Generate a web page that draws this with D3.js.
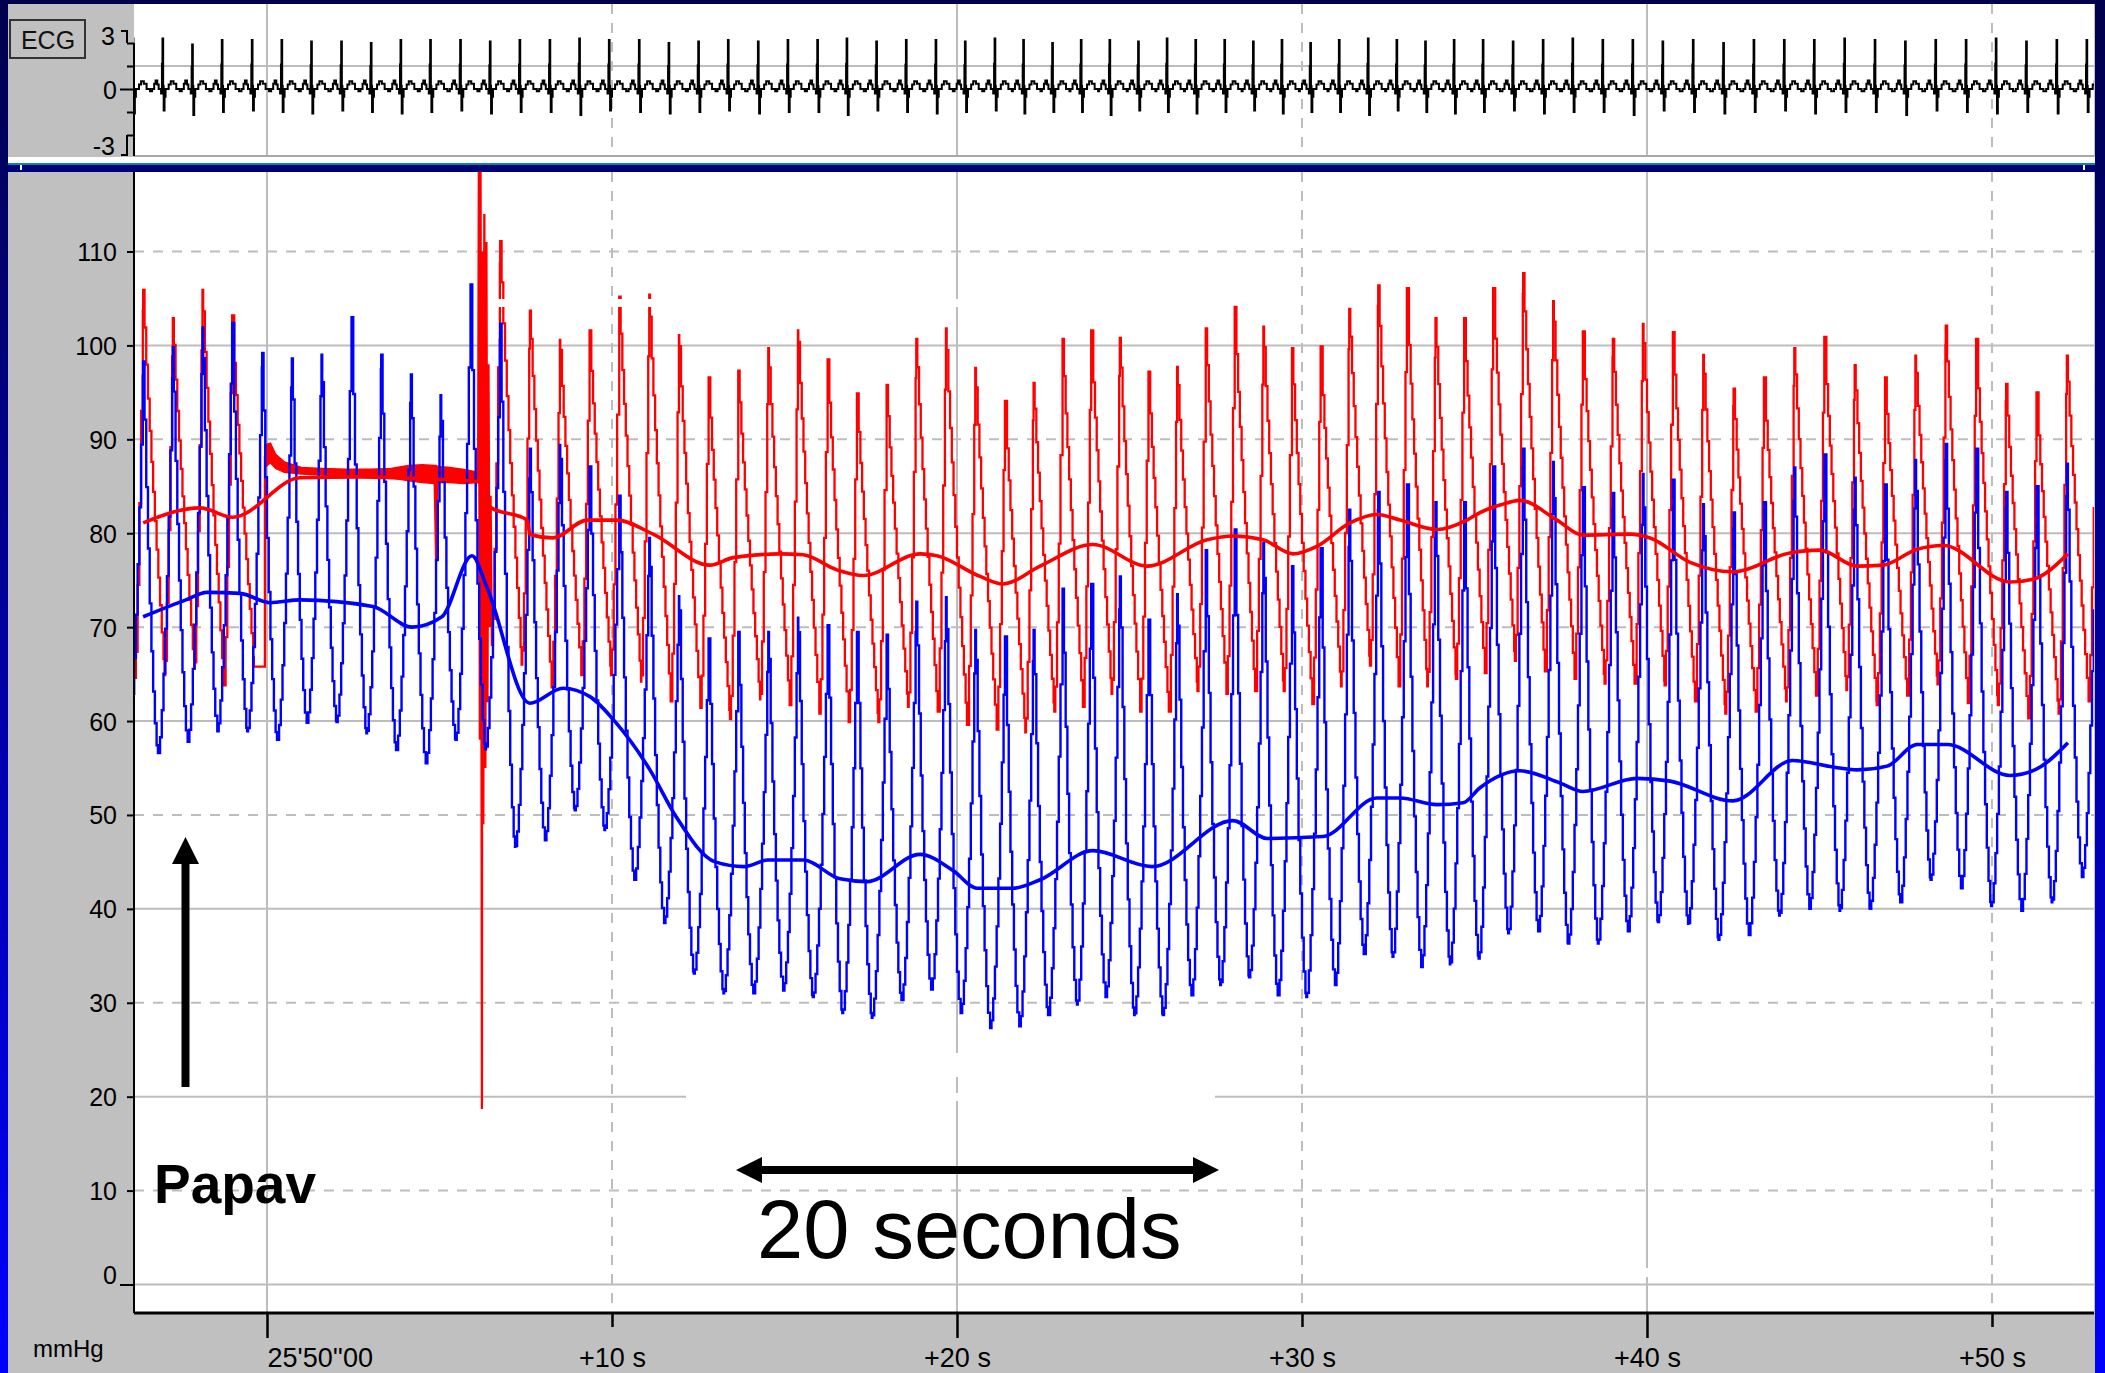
<!DOCTYPE html>
<html>
<head>
<meta charset="utf-8">
<script src="https://cdn.jsdelivr.net/npm/d3@7/dist/d3.min.js"></script>
<style>
  html, body { margin: 0; padding: 0; overflow: hidden; background: #000060; }
  svg { display: block; }
</style>
</head>
<body>
<script>
// beat times (s after 25'50''00), first entry is the beat cut off at the left edge
const beatT = [-4.45, -3.59, -2.73, -1.87, -1.01, -0.14, 0.72, 1.58, 2.45, 3.31,
  4.17, 5.03, 5.90, 6.76, 7.62, 8.49, 9.35, 10.21, 11.08, 11.94,
  12.80, 13.66, 14.53, 15.39, 16.25, 17.10, 17.96, 18.82, 19.68, 20.53,
  21.39, 22.22, 23.06, 23.89, 24.72, 25.55, 26.38, 27.21, 28.05, 28.88,
  29.71, 30.54, 31.37, 32.21, 33.04, 33.87, 34.70, 35.54, 36.41, 37.28,
  38.14, 39.01, 39.88, 40.75, 41.63, 42.51, 43.39, 44.27, 45.14, 46.02,
  46.90, 47.78, 48.66, 49.54, 50.41, 51.29, 52.17, 53.04];

// blue pressure: peak of each beat, trough after each beat (mmHg)
const bluePeak = [99, 98.3, 99.8, 101.9, 102.4, 99.2, 98.6, 99.0, 103.0, 99.0,
  96.9, 94.7, 106.5, 102.3, 89.0, 89.4, 87.1, 84.0, 79.5, 73.3,
  68.8, 69.5, 69.5, 71.0, 70.2, 69.5, 69.2, 72.7, 73.2, 69.7,
  69.0, 69.7, 74.1, 74.6, 75.4, 70.8, 73.5, 78.2, 80.4, 79.0,
  76.5, 78.4, 82.5, 84.4, 85.2, 83.3, 83.3, 87.1, 89.0, 87.6,
  84.9, 84.3, 86.3, 85.7, 83.1, 82.2, 83.3, 87.0, 88.4, 85.9,
  85.2, 87.8, 89.5, 89.0, 84.4, 85.0, 87.4, 85];
const blueTrough = [58, 56.6, 57.8, 58.9, 58.9, 58.0, 59.8, 59.9, 58.7, 56.9,
  55.5, 58.0, 57, 46.6, 47.3, 50.5, 48.4, 43.1, 38.5, 33.1,
  31.0, 31.0, 31.3, 30.6, 28.9, 28.4, 30.3, 31.4, 28.9, 27.3,
  27.5, 28.7, 29.8, 30.6, 28.7, 28.7, 30.8, 31.9, 32.7, 30.8,
  30.6, 31.9, 35.2, 34.9, 33.8, 34.1, 34.7, 37.4, 37.6, 36.3,
  36.3, 37.6, 38.6, 38.4, 36.7, 37.2, 39.3, 40.0, 39.8, 40.0,
  40.7, 43.1, 42.2, 40.3, 39.8, 40.7, 43.4, 42];

// red pressure: peak of each beat, trough just before each upstroke (null = no pulse, line flushed)
const redPeak = [104, 105.9, 102.9, 105.9, 103.2, null, null, null, null, null,
  null, null, null, 111.1, 103.7, 100.6, 101.6, 105.2, 105.4, 101.1,
  96.6, 97.3, 99.7, 101.6, 98.5, 94.9, 95.8, 100.7, 101.8, 97.6,
  94.1, 96.0, 100.7, 101.6, 100.8, 97.2, 97.7, 101.8, 104.1, 102.0,
  99.7, 99.9, 103.9, 106.4, 106.1, 102.9, 102.9, 106.1, 107.7, 104.7,
  101.5, 100.7, 102.3, 101.4, 99.0, 95.4, 96.6, 99.7, 100.9, 97.9,
  96.6, 98.9, 102.1, 100.7, 95.9, 95.0, 98.9, 100];
const redTrough = [null, 64.6, 64.9, 65.6, 63.8, 65.8, null, null, null, null,
  null, null, null, 68, 66.0, 63.6, 64.9, 64.9, 64.2, 62.1,
  61.4, 60.2, 62.3, 61.7, 60.8, 59.9, 59.9, 61.5, 61.0, 59.6,
  59.1, 58.8, 61.0, 61.5, 62.9, 61.0, 61.0, 63.2, 62.9, 63.2,
  63.2, 61.8, 63.7, 65.9, 63.7, 63.7, 64.5, 65.1, 66.4, 65.3,
  64.5, 64.0, 64.0, 63.8, 62.1, 60.8, 61.0, 62.1, 62.7, 63.3,
  61.7, 62.7, 63.9, 61.9, 61.7, 60.3, 60.8, 62.1];

// red trace while flushed: [t, low, high] of the noisy band
const redFlush = [[-0.06, 87.0, 89.4], [0.10, 87.5, 89.6], [0.25, 86.9, 88.4], [0.50, 86.5, 87.6],
  [1.00, 86.3, 87.0], [1.60, 86.2, 86.9], [2.30, 86.1, 86.8], [3.00, 86.0, 86.8],
  [3.60, 85.9, 86.9], [4.10, 85.6, 87.2], [4.50, 85.4, 87.3], [4.85, 85.3, 87.2],
  [4.90, 75.2, 87.2], [4.95, 85.4, 87.1], [5.30, 85.4, 87.0], [5.70, 85.3, 86.8],
  [6.12, 85.4, 86.5]];

// artefact when the papaverine was given
const redSpike = [[6.12, 85.8], [6.14, 118.5], [6.17, 58], [6.19, 118.5], [6.22, 52],
  [6.23, 18.7], [6.24, 110], [6.27, 49], [6.30, 114], [6.33, 55], [6.36, 111],
  [6.39, 62], [6.42, 98], [6.45, 70], [6.48, 84], [6.52, 68]];

// moving means [t, mmHg]
const redMean = [[-3.59, 81.1], [-1.94, 82.7], [-0.99, 81.7], [0.96, 85.9], [2.70, 86.0],
  [4.43, 85.8], [6.12, 85.5], [6.46, 82.8], [7.54, 81.4], [7.62, 79.9], [8.29, 79.5],
  [9.28, 81.4], [10.14, 81.4], [11.19, 79.9], [12.84, 76.6], [13.51, 77.4], [14.87, 77.8],
  [15.54, 77.7], [16.52, 76.1], [17.28, 75.5], [18.93, 77.8], [19.42, 77.6], [20.67, 75.4],
  [21.33, 74.6], [22.41, 76.5], [23.94, 78.8], [25.51, 76.5], [27.25, 79.3], [28.00, 79.7],
  [28.87, 79.3], [29.74, 77.8], [30.43, 78.6], [31.39, 81.1], [32.17, 82.0], [32.84, 81.4],
  [33.91, 80.4], [34.78, 81.4], [35.16, 82.2], [35.74, 83.0], [36.32, 83.5], [37.39, 81.4],
  [38.14, 79.8], [39.51, 79.9], [40.09, 79.5], [41.25, 76.9], [42.49, 75.9], [44.14, 77.9],
  [45.01, 78.2], [46.09, 76.5], [46.84, 76.6], [47.83, 78.3], [48.58, 78.7], [50.52, 74.8],
  [51.19, 75.1], [52.20, 77.8]];
const blueMean = [[-3.59, 71.1], [-2.35, 72.9], [-1.74, 73.7], [-0.78, 73.6], [0.09, 72.6],
  [0.96, 72.9], [3.07, 72.2], [4.20, 70.0], [5.07, 71.1], [5.94, 77.6], [6.38, 74.2],
  [7.62, 61.9], [8.58, 63.5], [9.36, 62.6], [10.12, 59.8], [11.10, 54.8], [11.86, 49.8],
  [12.99, 45.0], [13.83, 44.5], [14.52, 45.2], [15.54, 45.2], [16.61, 43.2], [17.39, 42.9],
  [18.93, 45.8], [19.88, 44.1], [20.58, 42.2], [21.62, 42.2], [22.41, 43.1], [23.94, 46.2],
  [25.65, 44.5], [28.00, 49.4], [28.99, 47.5], [30.61, 47.7], [32.17, 51.8], [32.84, 51.8],
  [33.91, 51.1], [34.67, 51.3], [35.16, 52.9], [36.32, 54.7], [37.48, 53.4], [38.14, 52.5],
  [39.71, 53.9], [40.67, 53.6], [42.49, 51.5], [44.23, 55.8], [45.39, 55.1], [46.09, 54.8],
  [46.96, 55.2], [47.83, 57.5], [48.70, 57.5], [50.52, 54.2], [51.30, 54.9], [52.20, 57.7]];

// ECG R and S amplitudes per beat
const ecgR = [3.2, 3.3, 3.3, 2.9, 3.2, 3.2, 3.2, 3.1, 3.1, 3.0,
  3.2, 3.2, 3.2, 3.1, 3.2, 3.2, 3.3, 3.2, 3.2, 3.0,
  3.1, 3.2, 3.1, 3.2, 3.2, 3.3, 3.1, 3.2, 3.2, 3.1,
  3.3, 3.2, 3.0, 3.2, 3.2, 3.1, 3.3, 3.2, 3.2, 3.1,
  3.2, 3.0, 3.2, 3.3, 3.2, 3.1, 3.2, 3.2, 3.1, 3.2,
  3.3, 3.2, 3.2, 3.1, 3.2, 3.0, 3.2, 3.2, 3.2, 3.3,
  3.2, 3.1, 3.2, 3.2, 3.3, 3.1, 3.2, 3.2];
const ecgS = [-1.5, -1.6, -1.4, -1.7, -1.5, -1.4, -1.5, -1.6, -1.4, -1.5,
  -1.6, -1.5, -1.4, -1.6, -1.5, -1.5, -1.7, -1.4, -1.5, -1.6,
  -1.5, -1.4, -1.6, -1.5, -1.5, -1.7, -1.4, -1.5, -1.6, -1.5,
  -1.4, -1.6, -1.5, -1.5, -1.7, -1.4, -1.5, -1.6, -1.5, -1.4,
  -1.6, -1.5, -1.5, -1.7, -1.4, -1.5, -1.6, -1.5, -1.4, -1.6,
  -1.5, -1.5, -1.7, -1.4, -1.5, -1.6, -1.5, -1.4, -1.6, -1.5,
  -1.5, -1.7, -1.4, -1.5, -1.6, -1.5, -1.6, -1.5];

const yTicks = [0, 10, 20, 30, 40, 50, 60, 70, 80, 90, 100, 110];
const xTicks = [0, 10, 20, 30, 40, 50];
const xTickLabels = ["25'50''00", "+10 s", "+20 s", "+30 s", "+40 s", "+50 s"];
const ecgTicks = [3, 1.5, 0, -1.5, -3];

const W = 2105, H = 1373;
const FONT = "Liberation Sans, Arial, sans-serif";
const L = 134, R = 2094;
const mainTop = 172, mainBottom = 1313;
const ecgTop = 4, ecgBottom = 156;

const svg = d3.select("body").append("svg")
    .attr("width", W)
    .attr("height", H);

// slide background
const defs = svg.append("defs");
const grad = defs.append("linearGradient").attr("id", "bg")
    .attr("x1", 0).attr("y1", 0).attr("x2", 0).attr("y2", 1);
grad.append("stop").attr("offset", "0%").attr("stop-color", "#00004c");
grad.append("stop").attr("offset", "100%").attr("stop-color", "#0000ff");
svg.append("rect").attr("width", W).attr("height", H).attr("fill", "url(#bg)");

defs.append("clipPath").attr("id", "clipMain").append("rect")
    .attr("x", L).attr("y", mainTop).attr("width", R - L).attr("height", mainBottom - mainTop);
defs.append("clipPath").attr("id", "clipEcg").append("rect")
    .attr("x", L).attr("y", ecgTop).attr("width", R - L).attr("height", ecgBottom - ecgTop);

// window panels
svg.append("rect").attr("x", 8).attr("y", 4).attr("width", 2087).attr("height", H - 4).attr("fill", "#c0c0c0");
svg.append("rect").attr("x", L).attr("y", ecgTop).attr("width", R - L).attr("height", ecgBottom - ecgTop).attr("fill", "#fff");
svg.append("rect").attr("x", 8).attr("y", 157).attr("width", 2087).attr("height", 6).attr("fill", "#fff");
svg.append("rect").attr("x", 8).attr("y", 163).attr("width", 2087).attr("height", 2).attr("fill", "#0a8c8c");
svg.append("rect").attr("x", 8).attr("y", 165).attr("width", 2087).attr("height", 7).attr("fill", "#00007a");
svg.append("rect").attr("x", 20).attr("y", 165).attr("width", 2).attr("height", 5).attr("fill", "#fff");
svg.append("rect").attr("x", 2083).attr("y", 165).attr("width", 2).attr("height", 5).attr("fill", "#fff");
svg.append("rect").attr("x", L).attr("y", mainTop).attr("width", R - L).attr("height", mainBottom - mainTop).attr("fill", "#fff");

// scales
const x = d3.scaleLinear().domain([-3.855, 52.957]).range([L, R]);
const y = d3.scaleLinear().domain([0, 110]).range([1284.5, 251.5]);
const yE = d3.scaleLinear().domain([-3, 3]).range([135, 43]);

// grid
const grid = svg.append("g").attr("stroke", "#bdbdbd").attr("stroke-width", 2);
yTicks.forEach(function(v) {
    grid.append("line")
        .attr("x1", L).attr("x2", R).attr("y1", y(v)).attr("y2", y(v))
        .attr("stroke-dasharray", v % 20 ? "10,9" : null);
});
xTicks.forEach(function(t) {
    grid.append("line")
        .attr("x1", x(t)).attr("x2", x(t)).attr("y1", mainTop).attr("y2", mainBottom)
        .attr("stroke-dasharray", t % 20 ? "10,9" : null);
    grid.append("line")
        .attr("x1", x(t)).attr("x2", x(t)).attr("y1", ecgTop).attr("y2", ecgBottom)
        .attr("stroke-dasharray", t % 20 ? "10,9" : null);
});
grid.append("line").attr("x1", L).attr("x2", R).attr("y1", yE(1.5)).attr("y2", yE(1.5));
svg.append("line").attr("x1", L).attr("x2", R).attr("y1", ecgBottom).attr("y2", ecgBottom)
    .attr("stroke", "#a8a8a8").attr("stroke-width", 2);

// build the sampled pressure curves (recorder draws in small steps)
const DT = 0.05, RISE = 0.24;
function ramp(out, t0, v0, t1, v1, f) {
    for (let g = Math.floor(t0 / DT) * DT + DT; g < t1 - 0.01; g += DT) {
        if (g <= t0 + 0.01) continue;
        const u = (g - t0) / (t1 - t0);
        out.push([g, v0 + (v1 - v0) * f(u)]);
    }
    out.push([t1, v1]);
}

const blue = [[beatT[0], bluePeak[0]]];
for (let k = 0; k < beatT.length; k++) {
    const tNext = k + 1 < beatT.length ? beatT[k + 1] : beatT[k] + 0.86;
    const m = (beatT[k] + tNext) / 2;
    ramp(blue, beatT[k], bluePeak[k], m, blueTrough[k], function(u) { return 1 - Math.pow(1 - u, 1.65); });
    if (k + 1 < beatT.length)
        ramp(blue, m, blueTrough[k], beatT[k + 1], bluePeak[k + 1], function(u) { return Math.pow(u, 1.65); });
}

function redSegment(k0, k1) {
    const pts = [];
    if (redTrough[k0] != null) pts.push([beatT[k0] - RISE, redTrough[k0]]);
    for (let k = k0; k <= k1; k++) {
        if (redPeak[k] == null) continue;
        if (pts.length) ramp(pts, beatT[k] - RISE, redTrough[k], beatT[k], redPeak[k], function(u) { return Math.pow(u, 1.3); });
        else pts.push([beatT[k], redPeak[k]]);
        if (k + 1 < beatT.length && redTrough[k + 1] != null)
            ramp(pts, beatT[k], redPeak[k], beatT[k + 1] - RISE, redTrough[k + 1], function(u) { return Math.pow(u, 0.85); });
    }
    return pts;
}
const red1 = redSegment(0, 4);
red1.push([redFlush[0][0], (redFlush[0][1] + redFlush[0][2]) / 2]);
const red2 = redSegment(13, beatT.length - 1);

const stepLine = d3.line().x(d => x(d[0])).y(d => y(d[1])).curve(d3.curveStepAfter);
const plainLine = d3.line().x(d => x(d[0])).y(d => y(d[1]));
const meanLine = d3.line().x(d => x(d[0])).y(d => y(d[1])).curve(d3.curveMonotoneX);

const plot = svg.append("g").attr("clip-path", "url(#clipMain)");

plot.append("path").datum(red1).attr("d", stepLine)
    .attr("fill", "none").attr("stroke", "#ff0000").attr("stroke-width", 2.3);
plot.append("path").datum(red2).attr("d", stepLine)
    .attr("fill", "none").attr("stroke", "#ff0000").attr("stroke-width", 2.3);
plot.append("path").datum(redFlush)
    .attr("d", d3.area().x(d => x(d[0])).y0(d => y(d[1])).y1(d => y(d[2])))
    .attr("fill", "#ff0000").attr("stroke", "#ff0000").attr("stroke-width", 1.5);
plot.append("path").datum(redSpike).attr("d", plainLine)
    .attr("fill", "none").attr("stroke", "#ff0000").attr("stroke-width", 2.3);

plot.append("path").datum(blue).attr("d", stepLine)
    .attr("fill", "none").attr("stroke", "#0000ff").attr("stroke-width", 2.4);

plot.append("path").datum(redMean).attr("d", meanLine)
    .attr("fill", "none").attr("stroke", "#ff0000").attr("stroke-width", 3.6);
plot.append("path").datum(blueMean).attr("d", meanLine)
    .attr("fill", "none").attr("stroke", "#0000ff").attr("stroke-width", 3.6);

// ECG trace
const ecgPts = [];
beatT.forEach(function(t, k) {
    const r = t - 0.30;
    const tpl = [[-0.30, 0], [-0.24, 0.35], [-0.20, 0.55], [-0.15, 0.3], [-0.11, 0],
        [-0.04, -0.3], [-0.015, ecgR[k] * 0.5], [0, ecgR[k]], [0.02, 0.2], [0.035, ecgS[k]],
        [0.06, -0.5], [0.09, 0], [0.18, 0.3], [0.24, 0.5], [0.32, 0.35], [0.40, 0], [0.5, -0.15]];
    tpl.forEach(function(p) { ecgPts.push([r + p[0], p[1]]); });
});
svg.append("g").attr("clip-path", "url(#clipEcg)")
    .append("path").datum(ecgPts)
    .attr("d", d3.line().x(d => x(d[0])).y(d => yE(d[1])).curve(d3.curveStepAfter))
    .attr("fill", "none").attr("stroke", "#000").attr("stroke-width", 2);

// white smudges from the slide overlay
const wh = svg.append("g").attr("fill", "#fff");
wh.append("rect").attr("x", 488).attr("y", 299).attr("width", 474).attr("height", 8);
wh.append("rect").attr("x", 686).attr("y", 1093).attr("width", 529).attr("height", 8);
wh.append("rect").attr("x", 951).attr("y", 1053).attr("width", 11).attr("height", 24);
wh.append("rect").attr("x", 1641).attr("y", 1268).attr("width", 11).attr("height", 9);

// axes
svg.append("line").attr("x1", L).attr("x2", L).attr("y1", mainTop).attr("y2", mainBottom)
    .attr("stroke", "#000").attr("stroke-width", 2);
svg.append("line").attr("x1", L).attr("x2", R).attr("y1", mainBottom).attr("y2", mainBottom)
    .attr("stroke", "#000").attr("stroke-width", 3);

const gy = svg.append("g").attr("transform", "translate(" + L + ",0)")
    .call(d3.axisLeft(y).tickValues(yTicks).tickSize(7).tickPadding(10));
gy.select(".domain").remove();
gy.selectAll("line").attr("stroke", "#000").attr("stroke-width", 2);
gy.selectAll("text").attr("font-family", FONT).attr("font-size", 25).attr("fill", "#000").attr("dy", "0.36em");
gy.selectAll(".tick").filter(d => d === 0).select("line").attr("x2", -14);
gy.selectAll(".tick").filter(d => d === 0).select("text").attr("dy", "-0.05em");

const gx = svg.append("g").attr("transform", "translate(0," + mainBottom + ")")
    .call(d3.axisBottom(x).tickValues(xTicks).tickSize(25).tickFormat((d, i) => xTickLabels[i]));
gx.select(".domain").remove();
gx.selectAll("line").attr("stroke", "#000").attr("stroke-width", 2.5).attr("y2", d => d % 20 ? 14 : 25);
gx.selectAll("text").attr("font-family", FONT).attr("font-size", 27).attr("fill", "#000")
    .attr("y", 54).attr("dy", 0)
    .attr("text-anchor", d => d === 0 ? "start" : "middle");

svg.append("text").attr("x", 33).attr("y", 1357)
    .attr("font-family", FONT).attr("font-size", 24).attr("fill", "#000").text("mmHg");

// ECG axis
svg.append("line").attr("x1", L).attr("x2", L).attr("y1", 43).attr("y2", ecgBottom)
    .attr("stroke", "#000").attr("stroke-width", 2);
const ge = svg.append("g").attr("transform", "translate(" + L + ",0)")
    .call(d3.axisLeft(yE).tickValues(ecgTicks).tickSize(7)
        .tickFormat(d => Math.abs(d) === 1.5 ? "" : String(d)));
ge.select(".domain").remove();
ge.selectAll("line").attr("stroke", "#000").attr("stroke-width", 2);
ge.selectAll("text").attr("font-family", FONT).attr("font-size", 25).attr("fill", "#000")
    .attr("x", -19)
    .attr("dy", d => d === 3 ? "0.05em" : d === -3 ? "0.78em" : "0.36em");
ge.selectAll(".tick").filter(d => d === 0).select("line").attr("x2", -14);
ge.selectAll(".tick").filter(d => d === 0).select("text").attr("x", -17);
svg.append("path").attr("d", "M121,31 H127 V43").attr("fill", "none").attr("stroke", "#000").attr("stroke-width", 2);
svg.append("path").attr("d", "M127,135 V155 H121").attr("fill", "none").attr("stroke", "#000").attr("stroke-width", 2);

svg.append("rect").attr("x", 10).attr("y", 20).attr("width", 75).attr("height", 38)
    .attr("fill", "#c0c0c0").attr("stroke", "#333").attr("stroke-width", 2);
svg.append("text").attr("x", 48).attr("y", 49).attr("text-anchor", "middle")
    .attr("font-family", FONT).attr("font-size", 25).attr("fill", "#111").text("ECG");

// annotations
svg.append("text").attr("x", 154).attr("y", 1203)
    .attr("font-family", FONT).attr("font-weight", "bold").attr("font-size", 55)
    .attr("fill", "#000").text("Papav");
svg.append("rect").attr("x", 181.5).attr("y", 860).attr("width", 8).attr("height", 227).attr("fill", "#000");
svg.append("path").attr("d", "M185.5,837 L199,864 L172,864 Z").attr("fill", "#000");

svg.append("rect").attr("x", 758).attr("y", 1166).attr("width", 438).attr("height", 8).attr("fill", "#000");
svg.append("path").attr("d", "M736,1170 L762,1157 L762,1183 Z").attr("fill", "#000");
svg.append("path").attr("d", "M1219,1170 L1193,1157 L1193,1183 Z").attr("fill", "#000");
svg.append("text").attr("x", 757).attr("y", 1258)
    .attr("font-family", FONT).attr("font-size", 83).attr("fill", "#000").text("20 seconds");
</script>
</body>
</html>
